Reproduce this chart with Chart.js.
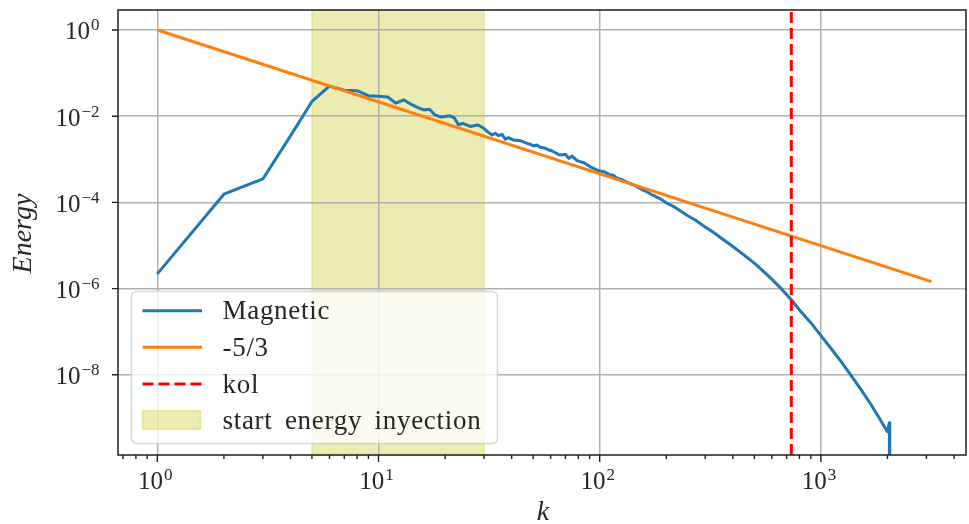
<!DOCTYPE html>
<html>
<head>
<meta charset="utf-8">
<script src="https://cdn.jsdelivr.net/npm/chart.js@4/dist/chart.umd.min.js"></script>
<style>
  html, body { margin: 0; padding: 0; background: #ffffff; }
  canvas { display: block; }
</style>
</head>
<body>
<canvas id="spectrum" width="969" height="524"></canvas>
<script>
// Magnetic energy spectrum E(k)
const kMagnetic = [
  1, 2, 3, 4, 5, 6, 7, 8, 9, 10,
  11, 12, 13, 14, 15, 16, 17, 18, 19, 20,
  21, 22, 23, 24, 25, 26, 27, 28, 29, 30,
  31, 32.6, 33.7, 34.9, 36.2, 37.4, 38.7, 40.8, 43.8, 47.0,
  48.6, 50.3, 52.1, 53.9, 56.8, 58.8, 60.9, 63.1, 65, 67.6,
  70, 72.5, 75, 79, 84.7, 90.8, 97.3, 100, 105, 110,
  115, 120, 127, 135, 142, 150, 160, 175, 187, 200,
  215, 230, 250, 270, 300, 330, 350, 400, 450, 500,
  550, 600, 650, 700, 735, 800, 900, 1000, 1107, 1228,
  1363, 1500, 1679, 1850, 1997, 2040, 2048
];
const eMagnetic = [
  2.2e-6, 1.55e-4, 3.5e-4, 3.5e-3, 2.2e-2, 5.0e-2, 4.0e-2, 3.9e-2, 3.0e-2, 2.9e-2,
  2.8e-2, 2.0e-2, 2.4e-2, 1.9e-2, 1.6e-2, 1.4e-2, 1.45e-2, 1.07e-2, 9.6e-3, 9.8e-3,
  1.02e-2, 9.2e-3, 6.3e-3, 6.8e-3, 6.3e-3, 5.8e-3, 6.0e-3, 6.3e-3, 5.8e-3, 5.2e-3,
  4.4e-3, 3.66e-3, 4.0e-3, 3.53e-3, 3.8e-3, 2.91e-3, 3.17e-3, 2.8e-3, 2.7e-3, 2.35e-3,
  2.23e-3, 2.04e-3, 2.15e-3, 1.9e-3, 1.8e-3, 1.64e-3, 1.56e-3, 1.42e-3, 1.30e-3, 1.26e-3,
  1.31e-3, 1.05e-3, 1.19e-3, 9.3e-4, 8.3e-4, 6.7e-4, 5.6e-4, 5.37e-4, 5.13e-4, 4.47e-4,
  4.27e-4, 3.63e-4, 3.31e-4, 2.82e-4, 2.57e-4, 2.19e-4, 1.86e-4, 1.45e-4, 1.23e-4, 9.8e-5,
  8.1e-5, 6.5e-5, 4.9e-5, 3.9e-5, 2.7e-5, 1.95e-5, 1.55e-5, 9.5e-6, 6.0e-6, 3.9e-6,
  2.5e-6, 1.66e-6, 1.1e-6, 7.2e-7, 5.5e-7, 3.2e-7, 1.62e-7, 8.1e-8, 4.2e-8, 2.1e-8,
  1.0e-8, 5.0e-9, 2.1e-9, 9.3e-10, 4.8e-10, 7.7e-10, 1e-14
];

// Kolmogorov -5/3 reference slope (straight line in log-log)
const kSlope = [1, 3162];
const eSlope = [1, 1.45e-6];

// Kolmogorov dissipation wavenumber
const kKol = 735;

// Forcing band where energy injection starts
const injectionBand = [5, 30];

// Axis limits and tick exponents
const xLimits = [0.664, 4530];
const yLimits = [1.38e-10, 2.91];
const xTickExponents = [0, 1, 2, 3];
const yTickExponents = [0, -2, -4, -6, -8];
const xMinorMultipliers = [2, 3, 4, 5, 6, 7, 8, 9];

const seriesLabels = ['Magnetic', '-5/3', 'kol', 'start energy inyection'];
const axisTitles = { x: 'k', y: 'Energy' };

const SERIF = '"Liberation Serif", "DejaVu Serif", "Times New Roman", serif';
const BLUE = '#1f77b4';
const ORANGE = '#ff7f0e';
const RED = '#ff0000';
const BAND_FILL = 'rgba(191,191,0,0.3)';
const FRAME = '#1e1e1e';
const TEXT = '#262626';

function toPoints(xs, ys) {
  return xs.map((x, i) => ({ x: x, y: ys[i] }));
}

// "10" with a raised exponent
function powerLabel(ctx, exponent, anchorX, baseline, align) {
  const base = '10';
  const exp = exponent < 0 ? '\u2212' + Math.abs(exponent) : String(exponent);
  ctx.font = '25px ' + SERIF;
  const wb = ctx.measureText(base).width;
  ctx.font = '17px ' + SERIF;
  const we = ctx.measureText(exp).width;
  const gap = 1;
  const total = wb + gap + we;
  const left = align === 'right' ? anchorX - total : anchorX - total / 2;
  ctx.fillStyle = TEXT;
  ctx.textAlign = 'left';
  ctx.textBaseline = 'alphabetic';
  ctx.font = '25px ' + SERIF;
  ctx.fillText(base, left, baseline);
  ctx.font = '17px ' + SERIF;
  ctx.fillText(exp, left + wb + gap, baseline - 9);
}

const decorations = {
  id: 'decorations',
  beforeDraw(chart) {
    const { ctx, chartArea: a, scales: { x } } = chart;
    ctx.save();
    ctx.fillStyle = '#ffffff';
    ctx.fillRect(0, 0, chart.width, chart.height);
    // energy injection band
    const x0 = x.getPixelForValue(injectionBand[0]);
    const x1 = x.getPixelForValue(injectionBand[1]);
    ctx.fillStyle = BAND_FILL;
    ctx.fillRect(x0, a.top, x1 - x0, a.bottom - a.top);
    ctx.strokeStyle = BAND_FILL;
    ctx.lineWidth = 1.5;
    ctx.strokeRect(x0, a.top, x1 - x0, a.bottom - a.top);
    ctx.restore();
  },
  afterDatasetsDraw(chart) {
    const { ctx, chartArea: a, scales: { x, y } } = chart;
    ctx.save();
    // axes frame
    ctx.strokeStyle = FRAME;
    ctx.lineWidth = 1.5;
    ctx.strokeRect(a.left, a.top, a.right - a.left, a.bottom - a.top);

    // tick marks: x majors and minors, y majors
    ctx.lineWidth = 1.4;
    ctx.beginPath();
    for (let d = -1; d <= 3; d++) {
      for (const m of xMinorMultipliers) {
        const v = m * Math.pow(10, d);
        if (v < xLimits[0] || v > xLimits[1]) continue;
        const px = x.getPixelForValue(v);
        ctx.moveTo(px, a.bottom);
        ctx.lineTo(px, a.bottom + 4);
      }
    }
    for (const e of xTickExponents) {
      const px = x.getPixelForValue(Math.pow(10, e));
      ctx.moveTo(px, a.bottom);
      ctx.lineTo(px, a.bottom + 7);
    }
    for (const e of yTickExponents) {
      const py = y.getPixelForValue(Math.pow(10, e));
      ctx.moveTo(a.left - 6, py);
      ctx.lineTo(a.left, py);
    }
    ctx.stroke();

    for (const e of xTickExponents) {
      const px = x.getPixelForValue(Math.pow(10, e));
      powerLabel(ctx, e, px - 2, a.bottom + 34, 'center');
    }
    for (const e of yTickExponents) {
      const py = y.getPixelForValue(Math.pow(10, e));
      powerLabel(ctx, e, a.left - 18.5, py + 9.5, 'right');
    }

    // axis titles
    ctx.fillStyle = TEXT;
    ctx.font = 'italic 28px ' + SERIF;
    ctx.textAlign = 'center';
    ctx.textBaseline = 'middle';
    ctx.fillText(axisTitles.x, (a.left + a.right) / 2 + 1, a.bottom + 58);
    ctx.save();
    ctx.translate(24, (a.top + a.bottom) / 2 + 1);
    ctx.rotate(-Math.PI / 2);
    ctx.fillText(axisTitles.y, 0, 0);
    ctx.restore();
    ctx.restore();
  },
  afterDraw(chart) {
    const { ctx, chartArea: a } = chart;
    ctx.save();
    // legend box in the lower-left corner
    const bx = a.left + 13.5, by = 291.5, bw = 366, bh = 152, r = 5;
    ctx.beginPath();
    ctx.roundRect(bx, by, bw, bh, r);
    ctx.fillStyle = 'rgba(255,255,255,0.8)';
    ctx.fill();
    ctx.strokeStyle = 'rgba(204,204,204,0.8)';
    ctx.lineWidth = 1.5;
    ctx.stroke();

    const hx0 = bx + 11, hx1 = bx + 70.5, tx = bx + 91;
    const rows = [by + 19.2, by + 55.8, by + 92.5, by + 128.5];

    ctx.lineWidth = 3;
    ctx.lineCap = 'butt';
    ctx.strokeStyle = BLUE;
    ctx.beginPath(); ctx.moveTo(hx0, rows[0]); ctx.lineTo(hx1, rows[0]); ctx.stroke();
    ctx.strokeStyle = ORANGE;
    ctx.beginPath(); ctx.moveTo(hx0, rows[1]); ctx.lineTo(hx1, rows[1]); ctx.stroke();
    ctx.strokeStyle = RED;
    ctx.setLineDash([11, 5]);
    ctx.beginPath(); ctx.moveTo(hx0, rows[2]); ctx.lineTo(hx1, rows[2]); ctx.stroke();
    ctx.setLineDash([]);
    ctx.fillStyle = BAND_FILL;
    ctx.fillRect(hx0, rows[3] - 9.3, hx1 - hx0 - 1.5, 18.6);
    ctx.strokeStyle = BAND_FILL;
    ctx.lineWidth = 1.5;
    ctx.strokeRect(hx0, rows[3] - 9.3, hx1 - hx0 - 1.5, 18.6);

    ctx.fillStyle = TEXT;
    ctx.font = '27px ' + SERIF;
    if ('wordSpacing' in ctx) ctx.wordSpacing = '5px';
    if ('letterSpacing' in ctx) ctx.letterSpacing = '0.7px';
    ctx.textAlign = 'left';
    ctx.textBaseline = 'alphabetic';
    seriesLabels.forEach((t, i) => ctx.fillText(t, tx, rows[i] + 8.5));
    ctx.restore();
  }
};

const logAxis = (limits, exps) => ({
  type: 'logarithmic',
  min: limits[0],
  max: limits[1],
  bounds: 'data',
  afterBuildTicks(scale) {
    scale.ticks = exps.map(e => ({ value: Math.pow(10, e) }));
  },
  ticks: { display: false },
  grid: { color: '#b0b0b0', lineWidth: 1.5, drawTicks: false },
  border: { display: false }
});

new Chart(document.getElementById('spectrum').getContext('2d'), {
  type: 'line',
  data: {
    datasets: [
      {
        label: seriesLabels[0],
        data: toPoints(kMagnetic, eMagnetic),
        borderColor: BLUE, borderWidth: 3, pointRadius: 0,
        borderJoinStyle: 'round', tension: 0, fill: false, clip: 0, order: 3
      },
      {
        label: seriesLabels[1],
        data: toPoints(kSlope, eSlope),
        borderColor: ORANGE, borderWidth: 3, pointRadius: 0,
        tension: 0, fill: false, clip: 0, order: 2
      },
      {
        label: seriesLabels[2],
        data: [{ x: kKol, y: yLimits[0] }, { x: kKol, y: yLimits[1] }],
        borderColor: RED, borderWidth: 3, borderDash: [11, 5], pointRadius: 0,
        tension: 0, fill: false, clip: 0, order: 1
      }
    ]
  },
  options: {
    responsive: false,
    animation: false,
    devicePixelRatio: 1,
    events: [],
    layout: { padding: { left: 118, top: 10, right: 3, bottom: 69 } },
    plugins: { legend: { display: false }, tooltip: { enabled: false } },
    scales: {
      x: logAxis(xLimits, xTickExponents),
      y: logAxis(yLimits, yTickExponents)
    }
  },
  plugins: [decorations]
});
</script>
</body>
</html>
